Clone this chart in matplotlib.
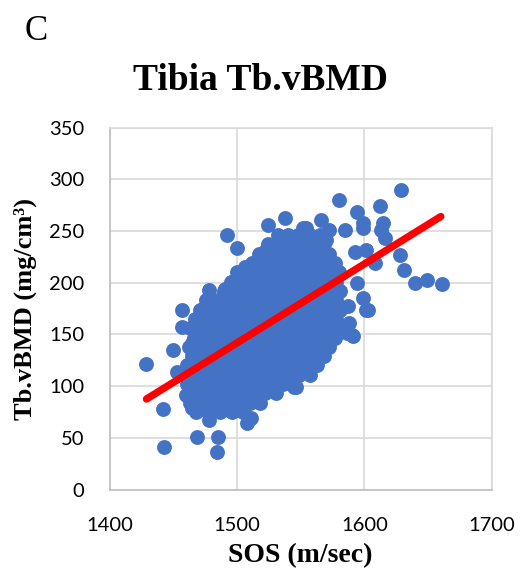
"""Scatter of tibia trabecular vBMD against speed of sound, with fitted trend."""
import matplotlib
matplotlib.use("Agg")
import matplotlib.pyplot as plt

# scattered subjects outside the dense core (SOS m/sec, Tb.vBMD mg/cm3)
outer_sos = [1429, 1442, 1443, 1450, 1457, 1457, 1469, 1485, 1484, 1478,
             1508, 1465, 1460, 1465, 1453, 1494, 1502, 1521, 1545, 1476,
             1492, 1500, 1506, 1516, 1523, 1524, 1538, 1552, 1478, 1491,
             1474, 1629, 1580, 1612, 1594, 1566, 1599, 1615, 1554, 1585,
             1599, 1613, 1572, 1570, 1616, 1593, 1601, 1628, 1608, 1631,
             1640, 1649, 1661, 1594, 1599, 1601, 1587, 1564, 1603, 1591,
             1586, 1573, 1556, 1563, 1546, 1590, 1588, 1464, 1482, 1498,
             1511]
outer_bmd = [121, 78, 41, 135, 174, 157, 51, 51, 36, 67,
             64, 142, 91, 79, 114, 77, 77, 98, 99, 177,
             246, 234, 215, 220, 232, 256, 263, 253, 193, 194,
             176, 290, 280, 274, 268, 261, 258, 258, 253, 251,
             253, 251, 251, 241, 243, 230, 232, 227, 219, 212,
             200, 203, 199, 200, 185, 174, 177, 180, 174, 148,
             151, 149, 120, 130, 99, 149, 161, 84, 77, 77,
             69]

# dense core of the cloud, one row of subjects per bmd level
core_rows = [
    (75, [1468, 1477, 1487, 1496, 1505]),
    (84, [1463, 1472, 1482, 1491, 1500, 1510, 1518]),
    (93, [1466, 1476, 1485, 1495, 1504, 1513, 1522, 1531]),
    (102, [1461, 1471, 1480, 1489, 1499, 1508, 1517, 1527, 1536, 1544]),
    (111, [1465, 1475, 1484, 1493, 1503, 1512, 1521, 1531, 1540, 1549, 1557]),
    (120, [1461, 1470, 1479, 1489, 1498, 1507, 1517, 1526, 1535, 1545, 1554, 1563]),
    (129, [1465, 1474, 1484, 1493, 1502, 1512, 1521, 1530, 1540, 1549, 1558, 1568]),
    (138, [1462, 1470, 1479, 1488, 1498, 1507, 1516, 1526, 1535, 1544, 1554, 1563, 1572]),
    (147, [1466, 1475, 1484, 1493, 1503, 1512, 1521, 1530, 1540, 1549, 1558, 1567, 1577]),
    (156, [1463, 1471, 1480, 1489, 1498, 1508, 1517, 1526, 1536, 1545, 1554, 1563, 1573, 1580]),
    (165, [1467, 1476, 1485, 1494, 1503, 1513, 1522, 1531, 1541, 1550, 1559, 1568, 1578]),
    (174, [1471, 1480, 1489, 1499, 1508, 1517, 1527, 1536, 1545, 1555, 1564, 1573, 1581]),
    (183, [1476, 1485, 1494, 1503, 1513, 1522, 1531, 1541, 1550, 1559, 1569, 1578]),
    (192, [1490, 1499, 1508, 1517, 1527, 1536, 1545, 1555, 1564, 1573, 1581]),
    (201, [1495, 1503, 1513, 1522, 1531, 1541, 1550, 1559, 1569, 1578]),
    (210, [1500, 1508, 1517, 1527, 1536, 1545, 1555, 1564, 1573, 1580]),
    (219, [1512, 1522, 1531, 1541, 1550, 1559, 1568, 1577]),
    (228, [1517, 1527, 1536, 1545, 1555, 1564, 1572]),
    (237, [1524, 1532, 1541, 1550, 1559, 1568]),
    (246, [1532, 1540, 1548, 1557, 1565]),
]

# linear trend line end points
trend_sos = [1429, 1660]
trend_bmd = [87.5, 264]

x_ticks = [1400, 1500, 1600, 1700]
y_ticks = [0, 50, 100, 150, 200, 250, 300, 350]

core_sos = [x for _, xs in core_rows for x in xs]
core_bmd = [y for y, xs in core_rows for _ in xs]

fig = plt.figure(figsize=(5.26, 5.74), dpi=100)
ax = fig.add_axes([0.2082, 0.1472, 0.7268, 0.6305])

dot = dict(s=115, color="#4472C4", linewidths=0, zorder=3)
ax.scatter(core_sos, core_bmd, **dot)
ax.scatter(outer_sos, outer_bmd, **dot)
ax.plot(trend_sos, trend_bmd, color="#FF0000", lw=5.3,
        solid_capstyle="round", zorder=4)

ax.set_xlim(1400, 1700)
ax.set_ylim(0, 350)
ax.set_xticks(x_ticks)
ax.set_yticks(y_ticks)
ax.grid(True, color="#D9D9D9", lw=1.2)
ax.set_axisbelow(True)
for side in ["top", "right"]:
    ax.spines[side].set_color("#D9D9D9")
    ax.spines[side].set_linewidth(1.2)
for side in ["left", "bottom"]:
    ax.spines[side].set_color("#BFBFBF")
    ax.spines[side].set_linewidth(1.2)

ax.tick_params(length=0, labelsize=14.5)
ax.tick_params(axis="x", pad=20)
ax.tick_params(axis="y", pad=18)
for lab in ax.get_xticklabels() + ax.get_yticklabels():
    lab.set_fontfamily("Lato")

serif = "Liberation Serif"
ax.set_xlabel("SOS (m/sec)", fontfamily=serif, fontweight="bold",
              fontsize=20, labelpad=6)
ax.set_ylabel("Tb.vBMD (mg/cm³)", fontfamily=serif,
              fontweight="bold", fontsize=19, labelpad=9)
fig.text(0.495, 1 - 90 / 574, "Tibia Tb.vBMD", fontfamily=serif,
         fontweight="bold", fontsize=27, ha="center", va="baseline")
fig.text(25 / 526, 1 - 40 / 574, "C", fontfamily=serif, fontsize=25,
         ha="left", va="baseline")

fig.savefig("out.png", dpi=100)
